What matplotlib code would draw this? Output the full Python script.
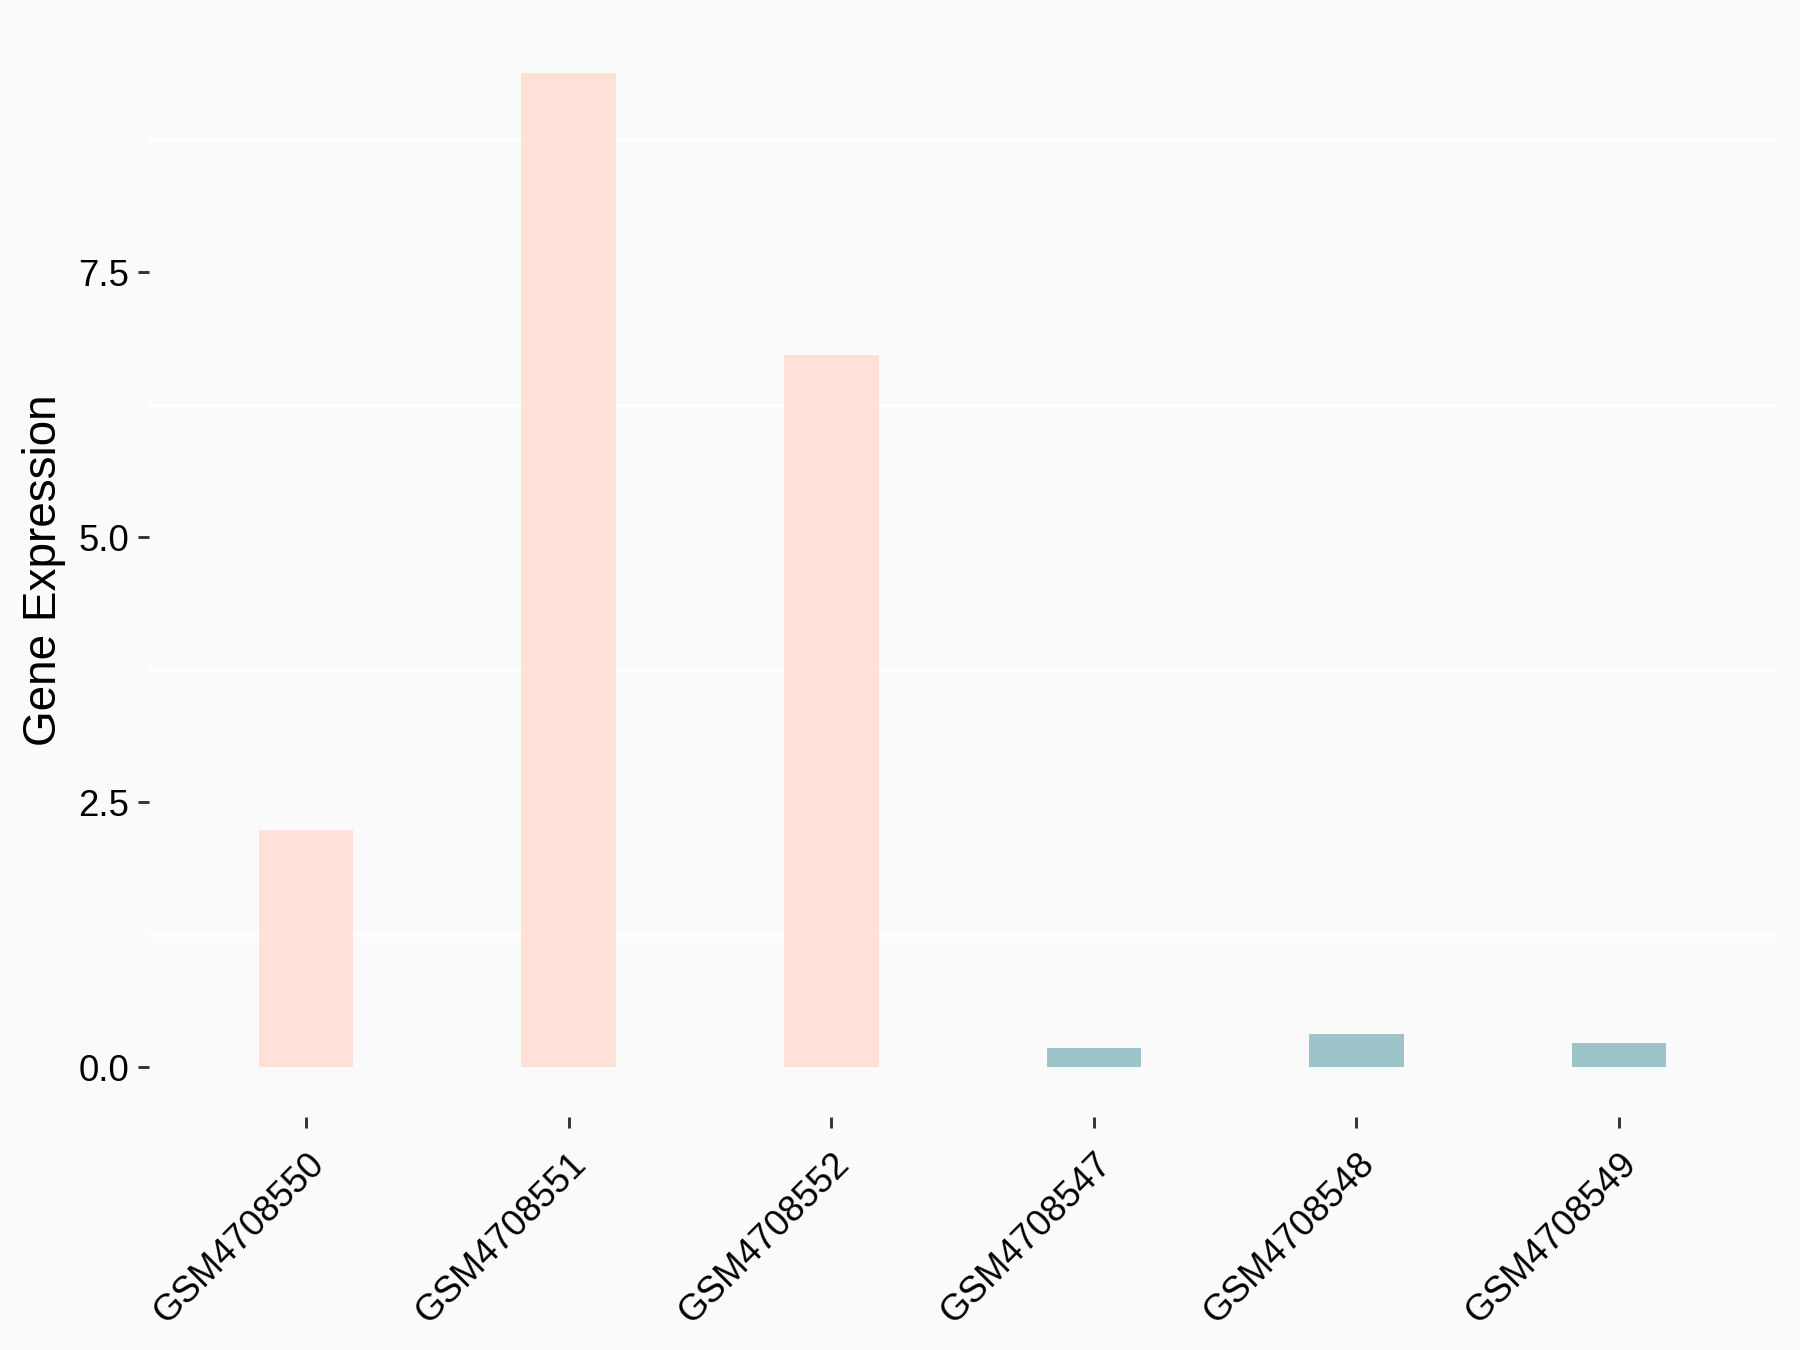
import matplotlib
matplotlib.use("Agg")
import matplotlib.pyplot as plt
import numpy as np

samples = ["GSM4708550", "GSM4708551", "GSM4708552", "GSM4708547", "GSM4708548", "GSM4708549"]
values = [2.24, 9.38, 6.72, 0.185, 0.315, 0.228]
groups = ["A", "A", "A", "B", "B", "B"]
group_colors = {"A": "#FFE1D7", "B": "#9DC4C8"}
yticks = [0.0, 2.5, 5.0, 7.5]
ytick_labels = ["0.0", "2.5", "5.0", "7.5"]
minor_grid = [1.25, 3.75, 6.25, 8.75]

plt.rcParams['font.family'] = ['Liberation Sans', 'DejaVu Sans']

fig = plt.figure(figsize=(12, 9), dpi=150, facecolor="#FAFAFA")
ax = fig.add_axes([0.0825, 0.1726, 0.9045, 0.8104])
ax.set_facecolor("#FAFAFA")

x = np.arange(1, len(samples) + 1)
for gy in minor_grid:
    ax.axhline(gy, color="white", lw=1.2, zorder=0)
ax.bar(x, values, width=0.36, color=[group_colors[g] for g in groups], zorder=2)

ymax = max(values)
ax.set_ylim(-0.05 * ymax, ymax * 1.05)
ax.set_xlim(0.4, len(samples) + 0.6)

ax.set_yticks(yticks)
ax.set_yticklabels(ytick_labels, fontsize=17.5, color="black")
ax.set_xticks(x)
ax.set_xticklabels(samples, rotation=45, ha="right", va="top",
                   rotation_mode="anchor", fontsize=17.5, color="black")
ax.tick_params(axis="both", direction="out", length=5.2, width=1.4, color="#333333")
ax.tick_params(axis="x", pad=9)
ax.tick_params(axis="y", pad=4)

for s in ax.spines.values():
    s.set_visible(False)

ax.set_ylabel("Gene Expression", fontsize=22, labelpad=6)

fig.savefig("out.png", dpi=150, facecolor=fig.get_facecolor())
